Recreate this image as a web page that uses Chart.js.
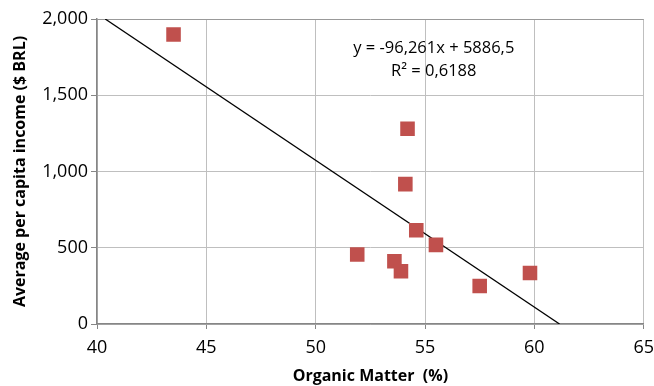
<!DOCTYPE html>
<html>
<head>
    <meta charset="utf-8">
    <title>Organic Matter vs Income</title>
    <script src="https://cdn.jsdelivr.net/npm/chart.js"></script>
    <style>
        body { margin: 0; background: #fff; }
        #wrap { width: 654px; height: 386px; }
    </style>
</head>
<body>
    <div id="wrap"><canvas id="grafico"></canvas></div>
    <script>
        // valores
        const organicMatter = [43.5, 54.2, 54.1, 54.6, 55.5, 51.9, 53.6, 53.9, 59.8, 57.5];
        const income = [1898, 1280, 917, 615, 519, 456, 412, 346, 334, 249];
        const slope = -96.261;
        const intercept = 5886.5;
        const xTicks = [40, 45, 50, 55, 60, 65];
        const yTicks = [0, 500, 1000, 1500, 2000];
        const eqLabel = 'y = -96,261x + 5886,5';
        const r2Label = 'R² = 0,6188';

        const yMax = 2000, yMin = 0;
        // linha de tendência cortada nos limites do eixo y
        const trend = [
            { x: (yMax - intercept) / slope, y: yMax },
            { x: (yMin - intercept) / slope, y: yMin }
        ];

        const fonte = '"Open Sans", sans-serif';

        const textoEquacao = {
            id: 'textoEquacao',
            afterDraw(chart) {
                const ctx = chart.ctx;
                const xs = chart.scales.x;
                const cx = xs.getPixelForValue(55.4);
                ctx.save();
                ctx.fillStyle = '#000';
                ctx.font = '16.5px ' + fonte;
                ctx.textAlign = 'center';
                ctx.textBaseline = 'middle';
                ctx.fillText(eqLabel, cx, 48);
                ctx.fillText(r2Label, cx, 71);
                ctx.restore();
            }
        };

        new Chart(document.getElementById('grafico'), {
            type: 'scatter',
            data: {
                datasets: [{
                    label: 'dados',
                    data: organicMatter.map((v, i) => ({ x: v, y: income[i] })),
                    backgroundColor: '#C0504D',
                    borderColor: '#C0504D',
                    borderWidth: 0,
                    pointStyle: 'rect',
                    pointRadius: 10.3,
                    order: 1
                }, {
                    label: 'tendência',
                    type: 'line',
                    data: trend,
                    borderColor: '#000',
                    borderWidth: 1.3,
                    pointRadius: 0,
                    fill: false,
                    order: 2
                }]
            },
            options: {
                responsive: true,
                maintainAspectRatio: false,
                animation: false,
                layout: { padding: { top: 19, right: 0, left: 0, bottom: 0 } },
                plugins: {
                    legend: { display: false },
                    tooltip: { enabled: false }
                },
                scales: {
                    x: {
                        type: 'linear',
                        min: 40, max: 65,
                        afterBuildTicks: s => { s.ticks = xTicks.map(v => ({ value: v })); },
                        afterFit: s => { s.height = 62; s.paddingRight = 7; },
                        grid: { color: '#BFBFBF', lineWidth: 1, tickLength: 5, tickColor: '#868686' },
                        border: { color: '#868686', width: 1.5 },
                        ticks: { color: '#000', font: { family: fonte, size: 18 }, padding: 8 },
                        title: {
                            display: true,
                            text: 'Organic Matter  (%)',
                            color: '#000',
                            font: { family: fonte, size: 16, weight: 'bold' },
                            padding: { top: 0, bottom: 0 }
                        }
                    },
                    y: {
                        min: yMin, max: yMax,
                        afterBuildTicks: s => { s.ticks = yTicks.map(v => ({ value: v })); },
                        afterFit: s => { s.width = 97; },
                        grid: {
                            color: c => c.tick && c.tick.value === yMax ? '#999999' : '#BFBFBF',
                            lineWidth: 1, tickLength: 6, tickColor: '#868686'
                        },
                        border: { color: '#868686', width: 1.5 },
                        ticks: {
                            color: '#000',
                            font: { family: fonte, size: 18 },
                            padding: 3,
                            callback: v => v.toLocaleString('en-US')
                        },
                        title: {
                            display: true,
                            text: 'Average per capita income ($ BRL)',
                            color: '#000',
                            font: { family: fonte, size: 16, weight: 'bold' },
                            padding: { top: 11, bottom: 0 }
                        }
                    }
                }
            },
            plugins: [textoEquacao]
        });
    </script>
</body>
</html>
